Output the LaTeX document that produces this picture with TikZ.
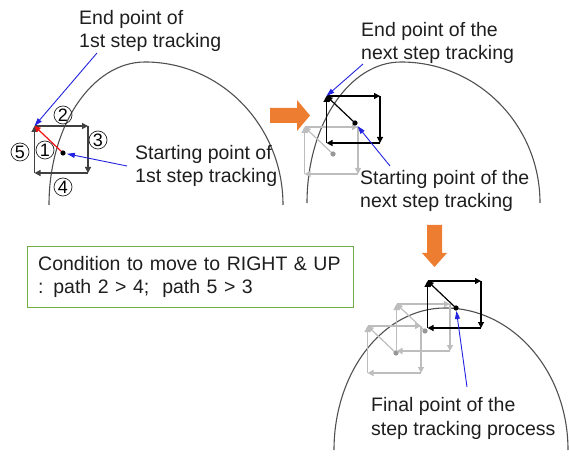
\documentclass[tikz,border=0pt]{standalone}
\usepackage{fontspec}
\setmainfont{Liberation Sans}
\usetikzlibrary{arrows.meta,calc}
\definecolor{arcgray}{HTML}{505050}
\definecolor{orng}{HTML}{ED7D31}
\definecolor{boxgreen}{RGB}{112,173,71}
\definecolor{blu}{HTML}{2222E0}
\definecolor{lgray}{HTML}{BDBDBD}
\definecolor{txt}{HTML}{1E1E1E}
\definecolor{redarr}{HTML}{F01010}
\newcommand\stepsquare[6]{%
  \coordinate (#1d) at (#2,#3);
  \coordinate (#1tl) at ($(#1d)+(-28.5,27)$);
  \coordinate (#1tr) at ($(#1d)+(25,27)$);
  \coordinate (#1br) at ($(#1d)+(25,-20)$);
  \coordinate (#1bl) at ($(#1d)+(-28.5,-20)$);
  \draw[sqedge,#4] (#1tl) -- (#1tr);
  \draw[sqedge,#4] (#1tr) -- (#1br);
  \draw[sqedge,#4] (#1br) -- (#1bl);
  \draw[sqedge,#4] (#1bl) -- (#1tl);
  \draw[sqedge,#5] (#1d) -- (#1tl);
  \fill[#6] (#1d) circle (2.6);
}
\begin{document}
\begin{tikzpicture}[x=1pt,y=1pt,
  sqedge/.style={line width=1.2pt,-{Triangle[length=6pt,width=6pt]}},
  arcline/.style={draw=arcgray,line width=1.1pt},
  bluarrow/.style={draw=blu,line width=0.9pt,-{Triangle[length=8pt,width=5pt]}},
  lbl/.style={anchor=base west,align=left,inner sep=0pt,text=txt,font=\fontsize{19.5}{23.5}\selectfont},
  cnum/.style={circle,draw=black!85,line width=0.7pt,inner sep=0pt,minimum size=18pt,font=\fontsize{18}{18}\selectfont}]
\useasboundingbox (0,0) rectangle (569,455);

% arcs
\draw[arcline] (49,250) arc[start angle=180,end angle=90,x radius=96,y radius=143]
                        arc[start angle=90,end angle=0,x radius=138,y radius=143];
\draw[arcline] (307,252) arc[start angle=180,end angle=90,x radius=94,y radius=141]
                         arc[start angle=90,end angle=0,x radius=139,y radius=141];
\draw[arcline] (334,5) arc[start angle=180,end angle=90,x radius=111,y radius=142]
                       arc[start angle=90,end angle=0,x radius=123,y radius=142];

% panel 1
\stepsquare{p}{63}{302}{black!75}{redarr}{black}
\node[cnum] (c2) at (63,340) {2};
\node[cnum] (c3) at (98,315) {3};
\node[cnum] (c5) at (20,303) {5};
\node[cnum] (c1) at (45,305) {1};
\node[cnum] (c4) at (63,268) {4};
\node[lbl] (t1) at (79,407) {End point of\\1st step tracking};
\node[lbl] (t2) at (135,272) {Starting point of\\1st step tracking};
\coordinate (b1s) at (97,402);
\coordinate (b2s) at (127,289);
\draw[bluarrow] (b1s) -- (ptl);
\draw[bluarrow,shorten >=4pt] (b2s) -- (pd);

% orange right arrow
\fill[orng] (270,347) -- (297,347) -- (297,355) -- (310,339.5) -- (297,324) -- (297,332) -- (270,332) -- cycle;

% panel 2
\stepsquare{g}{333}{301}{lgray}{lgray}{lgray!80!black}
\stepsquare{q}{355}{332}{black}{black}{black}
\node[lbl] (t3) at (361,395) {End point of the\\next step tracking};
\node[lbl] (t4) at (360,247) {Starting point of the\\next step tracking};
\coordinate (b3s) at (363,391);
\coordinate (b4s) at (390,289);
\draw[bluarrow] (b3s) -- (qtl);
\draw[bluarrow,shorten >=4pt] (b4s) -- (qd);

% orange down arrow
\fill[orng] (427,230) -- (442,230) -- (442,202) -- (447,202) -- (434.5,188) -- (422,202) -- (427,202) -- cycle;

% condition box
\node[anchor=north west,inner xsep=11pt,inner ysep=0pt,
      minimum height=60pt,text width=304pt,align=left,text=txt,
      font=\fontsize{19.5}{23.5}\selectfont] (cond) at (27,208)
      {Condition to move to RIGHT \& UP\\: path 2 > 4;\ \ path 5 > 3};
\draw[color=boxgreen,line width=1pt] (cond.north west) rectangle (cond.south east);

% panel 3
\stepsquare{r}{396}{102}{lgray}{lgray}{lgray!80!black}
\stepsquare{s}{425}{124}{lgray}{lgray}{lgray!80!black}
\stepsquare{u}{456}{147}{black}{black}{black}
\node[lbl] (t5) at (371,20) {Final point of the\\step tracking process};
\coordinate (b5s) at (467,68);
\draw[bluarrow,shorten >=3pt] (b5s) -- (ud);
\end{tikzpicture}
\end{document}
